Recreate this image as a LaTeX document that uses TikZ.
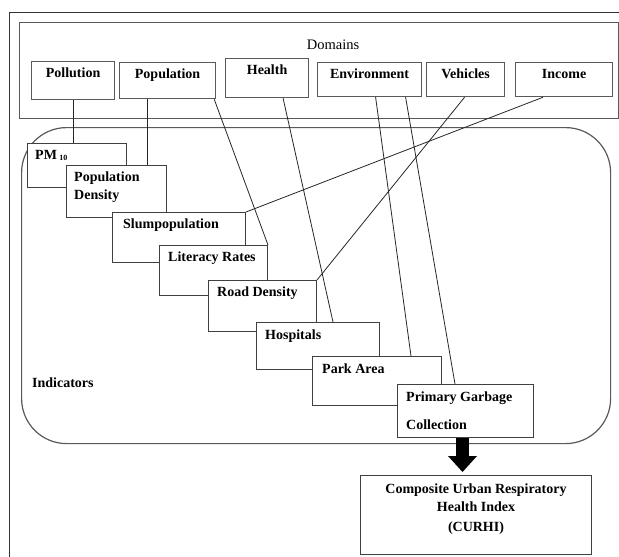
\documentclass[tikz,border=0pt]{standalone}
\usepackage{fontspec}
\setmainfont{Liberation Serif}
\usetikzlibrary{calc,arrows.meta}
\begin{document}
\begin{tikzpicture}[x=1pt,y=-1pt,
  frameline/.style={draw=black!80,line width=1pt},
  dbox/.style={draw=black!65,line width=1.2pt,fill=white,rectangle,inner sep=0pt,anchor=north west},
  ibox/.style={draw=black!75,line width=1pt,fill=white,rectangle,inner sep=0pt,anchor=north west},
  lbl/.style={font=\fontsize{14}{18}\selectfont\bfseries,inner sep=0pt,anchor=north west,align=left},
  conn/.style={draw=black!85,line width=0.8pt}]
\useasboundingbox (0,0) rectangle (619,557);
% outer frame
\draw[frameline] (9,557) -- (9,12) -- (619,12);
% domains frame
\node[dbox,minimum width=599pt,minimum height=96pt] (domains) at (19,22) {};
\node[font=\fontsize{14.5}{16}\selectfont,inner sep=0pt] (domlbl) at (333,45) {Domains};
% indicators frame
\node[draw=black!65,line width=1.2pt,rounded corners=45pt,inner sep=0pt,anchor=north west,
      minimum width=589pt,minimum height=316pt] (indframe) at (21,127) {};
\node[lbl,anchor=west] (indlbl) at (32,383) {Indicators};
% domain boxes
\node[dbox,minimum width=83pt,minimum height=38pt] (pol) at (31,61) {};
\node[lbl,anchor=north] (poltxt) at ($(pol.north)+(0,7)$) {Pollution};
\node[dbox,minimum width=96pt,minimum height=36pt] (pop) at (119,62) {};
\node[lbl,anchor=north] (poptxt) at ($(pop.north)+(0,7)$) {Population};
\node[dbox,minimum width=83pt,minimum height=39pt] (hea) at (225,58) {};
\node[lbl,anchor=north] (heatxt) at ($(hea.north)+(0,7)$) {Health};
\node[dbox,minimum width=104pt,minimum height=34pt] (env) at (317,62) {};
\node[lbl,anchor=north] (envtxt) at ($(env.north)+(0,7)$) {Environment};
\node[dbox,minimum width=78pt,minimum height=34pt] (veh) at (426,62) {};
\node[lbl,anchor=north] (vehtxt) at ($(veh.north)+(0,7)$) {Vehicles};
\node[dbox,minimum width=97pt,minimum height=34pt] (inc) at (515,62) {};
\node[lbl,anchor=north] (inctxt) at ($(inc.north)+(0,7)$) {Income};
% indicator boxes
\node[ibox,minimum width=99pt,minimum height=44pt] (pm) at (27,143) {};
\node[lbl] (pmtxt) at ($(pm.north west)+(8,7)$) {PM\,\raisebox{-1.5pt}{\fontsize{8}{8}\selectfont 10}};
\node[ibox,minimum width=100pt,minimum height=52pt] (popd) at (66,165) {};
\node[lbl] (popdtxt) at ($(popd.north west)+(8,7)$) {Population\\Density};
\node[ibox,minimum width=133pt,minimum height=50pt] (slum) at (112,212) {};
\node[lbl] (slumtxt) at ($(slum.north west)+(11,7)$) {Slumpopulation};
\node[ibox,minimum width=108pt,minimum height=50pt] (lit) at (159,245) {};
\node[lbl] (littxt) at ($(lit.north west)+(9,7)$) {Literacy Rates};
\node[ibox,minimum width=108pt,minimum height=51pt] (road) at (208,280) {};
\node[lbl] (roadtxt) at ($(road.north west)+(9,7)$) {Road Density};
\node[ibox,minimum width=123pt,minimum height=47pt] (hosp) at (256,322) {};
\node[lbl] (hosptxt) at ($(hosp.north west)+(9,8)$) {Hospitals};
\node[ibox,minimum width=129pt,minimum height=49pt] (park) at (312,356) {};
\node[lbl] (parktxt) at ($(park.north west)+(10,8)$) {Park Area};
\node[ibox,minimum width=136pt,minimum height=53pt] (pgc) at (397,384) {};
\node[lbl] (pgctxt) at ($(pgc.north west)+(9,8)$) {Primary Garbage\\[10pt]Collection};
% composite index
\node[ibox,minimum width=231pt,minimum height=79pt] (curhi) at (360,475) {};
\node[lbl,anchor=north,align=center] (curhitxt) at ($(curhi.north)+(0,9)$)
  {Composite Urban Respiratory\\Health Index\\[2pt](CURHI)};
% connectors
\coordinate (polb) at (pol.south);
\draw[conn] (polb) -- (polb |- pm.north);
\coordinate (popb) at ([xshift=-20pt]pop.south);
\draw[conn] (popb) -- (popb |- popd.north);
\coordinate (popr) at ([xshift=-2pt]pop.south east);
\draw[conn] (popr) -- (lit.north east);
\coordinate (heab) at ([xshift=16pt]hea.south);
\coordinate (hospt) at ([xshift=77pt]hosp.north west);
\draw[conn] (heab) -- (hospt);
\coordinate (envb1) at ([xshift=6pt]env.south);
\coordinate (parkt) at ([xshift=99pt]park.north west);
\draw[conn] (envb1) -- (parkt);
\coordinate (envb2) at ([xshift=36pt]env.south);
\coordinate (pgct) at ([xshift=58pt]pgc.north west);
\draw[conn] (envb2) -- (pgct);
\coordinate (vehb) at ([xshift=-1pt]veh.south);
\draw[conn] (vehb) -- (road.north east);
\coordinate (incb) at ([xshift=-21pt]inc.south);
\draw[conn] (incb) -- (slum.north east);
% big arrow
\coordinate (arrs) at ([xshift=-3pt]pgc.south);
\draw[line width=13pt,draw=black,shorten >=3pt,
      -{Triangle[width=29pt,length=16pt,line width=0pt]}] (arrs) -- (arrs |- curhi.north);
\end{tikzpicture}
\end{document}
